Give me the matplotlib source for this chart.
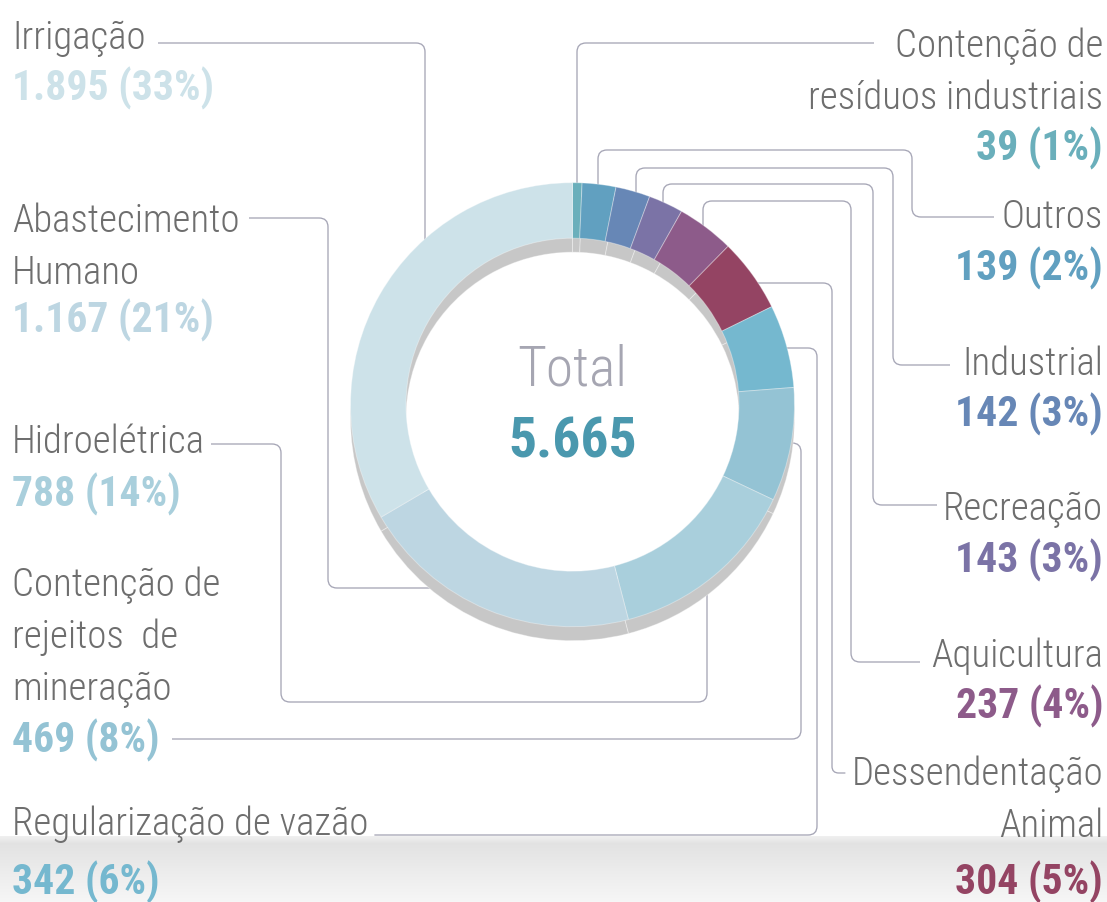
import numpy as np
import matplotlib.pyplot as plt
from matplotlib.path import Path
from matplotlib.patches import PathPatch
from matplotlib import font_manager as fm

# dados: usos da água (total 5.665)
nomes = ['Contenção de\nresíduos industriais', 'Outros', 'Industrial', 'Recreação',
         'Aquicultura', 'Dessendentação\nAnimal', 'Regularização de vazão',
         'Contenção de\nrejeitos  de\nmineração', 'Hidroelétrica',
         'Abastecimento\nHumano', 'Irrigação']
valores = [39, 139, 142, 143, 237, 304, 342, 469, 788, 1167, 1895]
percentuais = [1, 2, 3, 3, 4, 5, 6, 8, 14, 21, 33]
cores = ['#6aafbb', '#61a0c0', '#6787b6', '#7b73a6', '#8d5b8a', '#944463',
         '#75b8cf', '#94c3d4', '#a9cfdc', '#bdd6e2', '#cde2e9']
total_txt = '5.665'

# fonte condensada, se houver
disp = {f.name for f in fm.fontManager.ttflist}
fonte = 'DejaVu Sans'
for fam in ['Roboto Condensed', 'Liberation Sans Narrow', 'DejaVu Sans Condensed', 'Roboto']:
    if fam in disp:
        fonte = fam
        break
peso_leve = 'light' if fonte == 'Roboto Condensed' else 'normal'

# layout em pixels (y para baixo)
cx, cy = 572.5, 404.7
r_ext, r_int = 222, 166.5
r_meio = (r_ext + r_int) / 2
sombra = 14

# x, alinhamento, baseline do nome, baseline do valor
pos_rotulos = [
    (1103, 'right', 56.7, 160), (1103, 'right', 228.3, 280), (1103, 'right', 375, 426.7),
    (1103, 'right', 520, 573), (1103, 'right', 666.7, 718.3), (1103, 'right', 785, 895),
    (12, 'left', 835, 895), (12, 'left', 596, 753), (12, 'left', 453, 506.7),
    (12, 'left', 231.7, 333), (12, 'left', 49, 100),
]
passo = 52

# linhas de chamada: cantos + direção final até o anel
chamadas = [
    ([(874, 43), (577, 43)], 'baixo'),
    ([(994, 217), (912, 217), (912, 150), (598, 150)], 'baixo'),
    ([(950, 365), (893, 365), (893, 168), (636, 168)], 'baixo'),
    ([(940, 505), (873, 505), (873, 184), (663, 184)], 'baixo'),
    ([(920, 662), (851, 662), (851, 201), (703, 201)], 'baixo'),
    ([(855, 773), (832, 773), (832, 283)], 'esq'),
    ([(374, 835), (817, 835), (817, 348)], 'esq'),
    ([(172, 739), (801, 739), (801, 443)], 'esq'),
    ([(211, 444), (281, 444), (281, 702), (707, 702)], 'cima'),
    ([(249, 218), (328, 218), (328, 588)], 'dir'),
    ([(158, 43), (425, 43)], 'baixo'),
]
# qual texto a linha toca: 0 = primeira linha do nome, -1 = valor
ancora_txt = [0, 0, 0, 0, 0, 0, 0, -1, 0, 0, 0]


def ate_anel(p, direcao):
    x, y = p
    if direcao == 'baixo':
        return (x, cy - np.sqrt(r_meio**2 - (x - cx)**2))
    if direcao == 'cima':
        return (x, cy + np.sqrt(r_meio**2 - (x - cx)**2))
    if direcao == 'esq':
        return (cx + np.sqrt(r_meio**2 - (y - cy)**2), y)
    return (cx - np.sqrt(r_meio**2 - (y - cy)**2), y)


def caminho_arredondado(pts, r=9):
    pts = [np.array(p, float) for p in pts]
    verts, codes = [pts[0]], [Path.MOVETO]
    for i in range(1, len(pts) - 1):
        p0, p1, p2 = pts[i - 1], pts[i], pts[i + 1]
        l1, l2 = np.linalg.norm(p1 - p0), np.linalg.norm(p2 - p1)
        rr = min(r, l1 / 2, l2 / 2)
        a = p1 - (p1 - p0) / l1 * rr
        b = p1 + (p2 - p1) / l2 * rr
        verts += [a, p1, b]
        codes += [Path.LINETO, Path.CURVE3, Path.CURVE3]
    verts.append(pts[-1])
    codes.append(Path.LINETO)
    return Path(verts, codes)


fig = plt.figure(figsize=(11.07, 9.02), dpi=100)
ax = fig.add_axes([0, 0, 1, 1])

# faixa cinza no rodapé
grad = np.concatenate([np.linspace(0.94, 0.89, 8), np.linspace(0.89, 0.965, 58)])
img = np.repeat(grad[:, None, None], 3, axis=2)
ax.imshow(img, extent=(0, 1107, 902, 836), aspect='auto', zorder=0, interpolation='bilinear')

# sombra do anel
sw, _ = ax.pie(valores, colors=['#c7c7c7'] * len(valores), startangle=-90, counterclock=True,
               center=(cx, cy + sombra), radius=r_ext,
               wedgeprops=dict(width=r_ext - r_int, edgecolor=(1, 1, 1, 0.35), linewidth=0.7))
for w in sw:
    w.set_zorder(2)

# anel
wedges, _ = ax.pie(valores, colors=cores, startangle=-90, counterclock=True,
                   center=(cx, cy), radius=r_ext,
                   wedgeprops=dict(width=r_ext - r_int, edgecolor=(1, 1, 1, 0.35), linewidth=0.7))
for w in wedges:
    w.set_zorder(3)

ax.set_xlim(0, 1107)
ax.set_ylim(902, 0)
ax.set_aspect('equal')
ax.axis('off')

# texto central
ax.text(cx, 385, 'Total', ha='center', va='baseline', fontsize=40, color='#a6a6b2',
        family=fonte, fontweight=peso_leve, zorder=5)
ax.text(cx, 458, total_txt, ha='center', va='baseline', fontsize=40, color='#4a98ae',
        family=fonte, fontweight='bold', zorder=5)

# rótulos
textos = []
for nome, v, p, cor, (x, al, y0, yv) in zip(nomes, valores, percentuais, cores, pos_rotulos):
    linhas = []
    for k, linha in enumerate(nome.split('\n')):
        linhas.append(ax.text(x, y0 + k * passo, linha, ha=al, va='baseline', fontsize=28,
                              color='#6e6e6e', family=fonte, fontweight=peso_leve, zorder=5))
    valor_txt = f'{v:,}'.replace(',', '.') + f' ({p}%)'
    linhas.append(ax.text(x, yv, valor_txt, ha=al, va='baseline', fontsize=30, color=cor,
                          family=fonte, fontweight='bold', zorder=5))
    textos.append(linhas)

# linhas de chamada (afastadas do texto)
fig.canvas.draw()
rend = fig.canvas.get_renderer()
inv = ax.transData.inverted()
for (pts, direcao), linhas, qual, (x, al, _, _) in zip(chamadas, textos, ancora_txt, pos_rotulos):
    bb = linhas[qual].get_window_extent(rend).transformed(inv)
    x0, y0 = pts[0]
    if al == 'right':
        x0 = min(x0, bb.x0 - 6)
    else:
        x0 = max(x0, bb.x1 + 6)
    trajeto = [(x0, y0)] + pts[1:] + [ate_anel(pts[-1], direcao)]
    ax.add_patch(PathPatch(caminho_arredondado(trajeto), fill=False, edgecolor='#a6a6b6',
                           linewidth=0.95, zorder=1, capstyle='butt'))

fig.savefig('out.png', dpi=100)
